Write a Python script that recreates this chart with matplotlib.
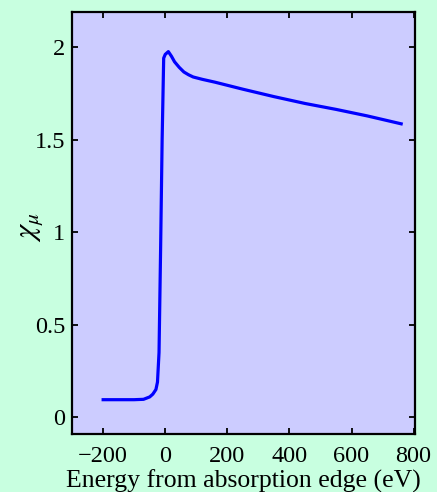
#!/usr/bin/env python3

import matplotlib
matplotlib.use('Agg')
import matplotlib.pyplot as plt

# energy relative to the absorption edge (eV) and chi_mu
energy = [-200, -150, -100, -70, -50, -40, -30, -25, -20, -15, -10, -5, 0, 10, 20,
          30, 45, 60, 75, 90, 120, 160, 250, 350, 450, 550, 650, 760]
chi_mu = [0.095, 0.095, 0.095, 0.097, 0.11, 0.125, 0.15, 0.19, 0.35, 0.9, 1.5, 1.94, 1.96,
          1.975, 1.95, 1.92, 1.89, 1.865, 1.85, 1.838, 1.825, 1.81, 1.772, 1.732, 1.695,
          1.663, 1.628, 1.585]

x_ticks = [-200, 0, 200, 400, 600, 800]
y_ticks = [0, 0.5, 1, 1.5, 2]
y_tick_labels = ['0', '0.5', '1', '1.5', '2']


def main():
    plt.rcParams['font.family'] = ['Liberation Serif', 'DejaVu Serif']
    plt.rcParams['mathtext.fontset'] = 'stix'

    fig = plt.figure(figsize=(4.37, 4.92), dpi=100, facecolor='#c8ffe0')
    ax = fig.add_axes([0.165, 0.118, 0.785, 0.858])
    ax.set_facecolor('#ccccff')

    ax.plot(energy, chi_mu, color='#0000ff', linewidth=2.3)

    ax.set_xlim(-300, 805)
    ax.set_ylim(-0.09, 2.19)
    ax.set_xticks(x_ticks)
    ax.set_yticks(y_ticks)
    ax.set_yticklabels(y_tick_labels)
    ax.tick_params(direction='in', top=True, right=True, length=4.5, width=1.3,
                   labelsize=17.5)
    ax.tick_params(axis='x', pad=9)
    ax.tick_params(axis='y', pad=5)
    for s in ax.spines.values():
        s.set_linewidth(1.6)

    ax.set_xlabel('Energy from absorption edge (eV)', fontsize=18.5, labelpad=1.5)
    ax.set_ylabel(r'$\chi_\mu$', fontsize=22)
    ax.yaxis.set_label_coords(-0.08, 0.49)

    fig.savefig('out.png', dpi=100, facecolor=fig.get_facecolor())


if __name__ == '__main__':
    main()
